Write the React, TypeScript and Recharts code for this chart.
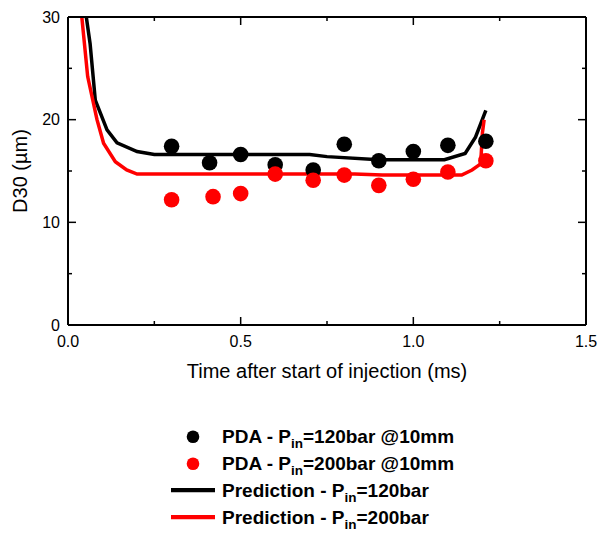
import {
  ComposedChart,
  Line,
  Scatter,
  XAxis,
  YAxis,
  Legend,
} from "recharts";

// PDA measurements at 10 mm (time in ms, D30 in µm)
const pdaTime120 = [0.3, 0.41, 0.5, 0.6, 0.71, 0.8, 0.9, 1.0, 1.1, 1.21];
const pdaD30_120 = [17.4, 15.8, 16.6, 15.6, 15.1, 17.6, 16.0, 16.9, 17.5, 17.9];
const pdaTime200 = [0.3, 0.42, 0.5, 0.6, 0.71, 0.8, 0.9, 1.0, 1.1, 1.21];
const pdaD30_200 = [12.2, 12.5, 12.8, 14.7, 14.1, 14.6, 13.6, 14.2, 14.9, 16.0];

// model predictions
const predTime120 = [0.053, 0.064, 0.079, 0.113, 0.142, 0.2, 0.25, 0.4, 0.6, 0.7, 0.75, 0.9, 1.0, 1.09, 1.15, 1.18, 1.21];
const predD30_120 = [30, 27.4, 21.9, 19.0, 17.75, 16.9, 16.6, 16.6, 16.6, 16.6, 16.4, 16.1, 16.1, 16.1, 16.7, 18.3, 20.9];
const predTime200 = [0.04, 0.057, 0.084, 0.103, 0.137, 0.17, 0.2, 0.5, 0.83, 0.91, 1.14, 1.17, 1.195, 1.2, 1.205];
const predD30_200 = [30, 24.2, 20.0, 17.7, 15.9, 15.1, 14.7, 14.7, 14.7, 14.6, 14.6, 15.1, 15.7, 18.7, 20.0];

const xTicks = [0, 0.25, 0.5, 0.75, 1.0, 1.25, 1.5];
const yTicks = [0, 5, 10, 15, 20, 25, 30];

const zip = (ts: number[], ys: number[]) => ts.map((t, i) => ({ t, y: ys[i] }));

const FONT = "'Liberation Sans', Arial, sans-serif";

const isMajor = (v: number, step: number) =>
  Math.abs(v / step - Math.round(v / step)) < 1e-6;

// inward ticks; labels only on major ticks
function BottomTick({ x, y, payload }: any) {
  const major = isMajor(payload.value, 0.5);
  return (
    <g>
      <line x1={x} x2={x} y1={y} y2={y - (major ? 8 : 4)} stroke="#000" strokeWidth={1.5} />
      {major && (
        <text x={x} y={y + 22} textAnchor="middle" fontSize={16} fill="#000">
          {payload.value.toFixed(1)}
        </text>
      )}
    </g>
  );
}

function TopTick({ x, y, payload }: any) {
  const major = isMajor(payload.value, 0.5);
  return <line x1={x} x2={x} y1={y} y2={y + (major ? 8 : 4)} stroke="#000" strokeWidth={1.5} />;
}

function LeftTick({ x, y, payload }: any) {
  const major = isMajor(payload.value, 10);
  return (
    <g>
      <line x1={x} x2={x + (major ? 8 : 4)} y1={y} y2={y} stroke="#000" strokeWidth={1.5} />
      {major && (
        <text x={x - 8} y={y} dy="0.36em" textAnchor="end" fontSize={16} fill="#000">
          {payload.value}
        </text>
      )}
    </g>
  );
}

function RightTick({ x, y, payload }: any) {
  const major = isMajor(payload.value, 10);
  return <line x1={x} x2={x - (major ? 8 : 4)} y1={y} y2={y} stroke="#000" strokeWidth={1.5} />;
}

const dot = (fill: string) => (p: any) => <circle cx={p.cx} cy={p.cy} r={7.8} fill={fill} />;

function LegendBox() {
  const rows = [
    { kind: "dot", color: "#000", name: "PDA - P", rest: "=120bar @10mm" },
    { kind: "dot", color: "#ff0000", name: "PDA - P", rest: "=200bar @10mm" },
    { kind: "line", color: "#000", name: "Prediction - P", rest: "=120bar" },
    { kind: "line", color: "#ff0000", name: "Prediction - P", rest: "=200bar" },
  ];
  return (
    <svg width={320} height={113} style={{ display: "block", fontFamily: FONT }}>
      {rows.map((r, i) => {
        const base = 22.7 + 27 * i;
        return (
          <g key={i}>
            {r.kind === "dot" ? (
              <circle cx={33} cy={base - 6} r={6.3} fill={r.color} />
            ) : (
              <line x1={11} x2={55} y1={base - 6.5} y2={base - 6.5} stroke={r.color} strokeWidth={4.3} />
            )}
            <text x={62} y={base} fontSize={19} fontWeight="bold" fill="#000">
              {r.name}
              <tspan fontSize={13.5} dy={5}>in</tspan>
              <tspan dy={-5}>{r.rest}</tspan>
            </text>
          </g>
        );
      })}
    </svg>
  );
}

export default function App() {
  return (
    <div style={{ position: "absolute", left: 0, top: 0, fontFamily: FONT }}>
      <ComposedChart
        width={598}
        height={533}
        margin={{ top: 7, right: 2, left: 0, bottom: 148 }}
      >
        <XAxis
          xAxisId="b"
          type="number"
          dataKey="t"
          domain={[0, 1.5]}
          ticks={xTicks}
          interval={0}
          allowDataOverflow
          height={60}
          tickSize={0}
          tickMargin={0}
          tickLine={false}
          tick={<BottomTick />}
          axisLine={{ stroke: "#000", strokeWidth: 2 }}
          label={(props: any) => {
            const vb = props.viewBox;
            return (
              <text x={vb.x + vb.width / 2} y={vb.y + 53} textAnchor="middle" fontSize={20} fill="#000">
                Time after start of injection (ms)
              </text>
            );
          }}
        />
        <XAxis
          xAxisId="top"
          orientation="top"
          type="number"
          dataKey="t"
          domain={[0, 1.5]}
          ticks={xTicks}
          interval={0}
          allowDataOverflow
          height={10}
          tickSize={0}
          tickMargin={0}
          tickLine={false}
          tick={<TopTick />}
          axisLine={{ stroke: "#000", strokeWidth: 2 }}
        />
        <YAxis
          yAxisId="l"
          type="number"
          domain={[0, 30]}
          ticks={yTicks}
          interval={0}
          allowDataOverflow
          width={68}
          tickSize={0}
          tickMargin={0}
          tickLine={false}
          tick={<LeftTick />}
          axisLine={{ stroke: "#000", strokeWidth: 2 }}
          label={(props: any) => {
            const vb = props.viewBox;
            const cx = vb.x + 27;
            const cy = vb.y + vb.height / 2;
            return (
              <text x={cx} y={cy} transform={`rotate(-90, ${cx}, ${cy})`} textAnchor="middle" fontSize={20} fill="#000">
                D30 (µm)
              </text>
            );
          }}
        />
        <YAxis
          yAxisId="r"
          orientation="right"
          type="number"
          domain={[0, 30]}
          ticks={yTicks}
          interval={0}
          allowDataOverflow
          width={10}
          tickSize={0}
          tickMargin={0}
          tickLine={false}
          tick={<RightTick />}
          axisLine={{ stroke: "#000", strokeWidth: 2 }}
        />
        <Scatter
          xAxisId="b"
          yAxisId="l"
          data={zip(pdaTime120, pdaD30_120)}
          dataKey="y"
          shape={dot("#000")}
          isAnimationActive={false}
        />
        <Scatter
          xAxisId="b"
          yAxisId="l"
          data={zip(pdaTime200, pdaD30_200)}
          dataKey="y"
          shape={dot("#ff0000")}
          isAnimationActive={false}
        />
        <Line
          xAxisId="b"
          yAxisId="l"
          data={zip(predTime120, predD30_120)}
          dataKey="y"
          type="linear"
          stroke="#000"
          strokeWidth={3.5}
          dot={false}
          isAnimationActive={false}
        />
        <Line
          xAxisId="b"
          yAxisId="l"
          data={zip(predTime200, predD30_200)}
          dataKey="y"
          type="linear"
          stroke="#ff0000"
          strokeWidth={3.5}
          dot={false}
          isAnimationActive={false}
        />
        <Legend
          layout="vertical"
          verticalAlign="middle"
          align="center"
          wrapperStyle={{ top: 420, left: 160, width: 320, height: 113 }}
          content={() => <LegendBox />}
        />
      </ComposedChart>
    </div>
  );
}
